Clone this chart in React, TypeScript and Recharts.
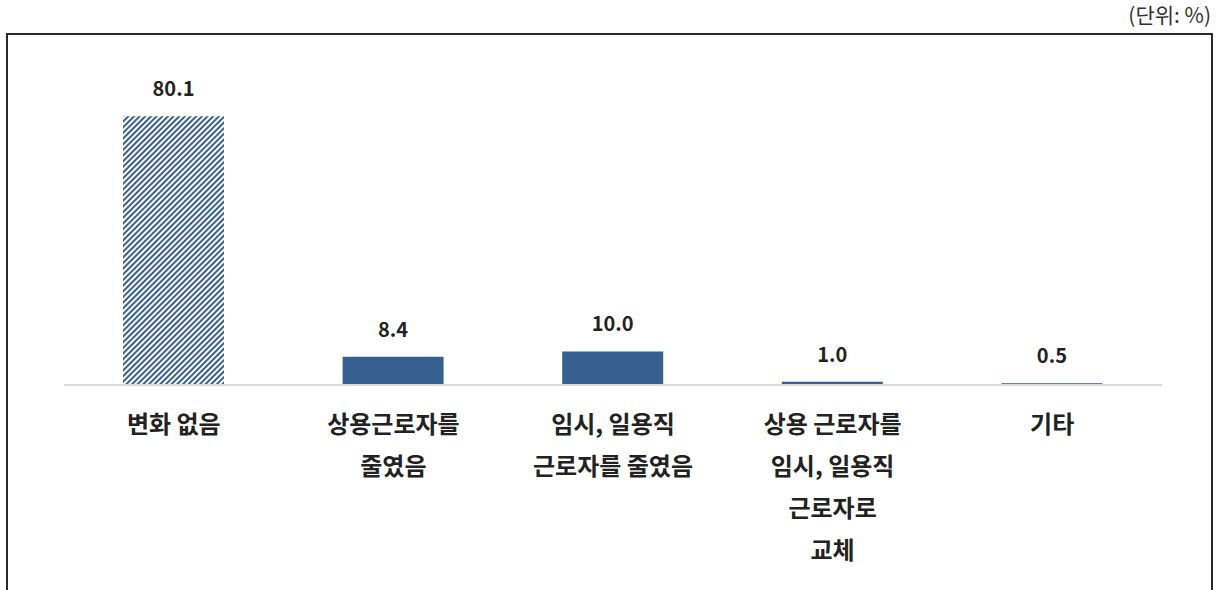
import { BarChart, Bar, XAxis, YAxis, Cell, LabelList } from 'recharts'

const categories = ['변화 없음', '상용근로자를\n줄였음', '임시, 일용직\n근로자를 줄였음', '상용 근로자를\n임시, 일용직\n근로자로\n교체', '기타']
const values = [80.1, 8.4, 10.0, 1.0, 0.5]

const BAR_COLOR = '#36608f'
const FONT = '"Noto Sans CJK KR", "Noto Sans", sans-serif'

const data = categories.map((name, i) => ({ name, value: values[i] }))

function CategoryTick(props: any) {
  const { x, y, payload } = props
  const lines: string[] = String(payload.value).split('\n')
  return (
    <text x={x} y={y + 48} textAnchor="middle" fill="#222" fontSize={24} fontWeight={700} fontFamily={FONT}>
      {lines.map((l, i) => (
        <tspan key={i} x={x} dy={i === 0 ? 0 : 42}>
          {l}
        </tspan>
      ))}
    </text>
  )
}

export default function App() {
  return (
    <div style={{ position: 'absolute', left: 0, top: 0, width: 1220, height: 590, overflow: 'hidden', background: '#fff' }}>
      <div
        style={{
          position: 'absolute',
          right: 9,
          top: 1,
          fontFamily: FONT,
          fontSize: 21,
          color: '#333',
          lineHeight: '26px',
        }}
      >
        (단위: %)
      </div>
      <div
        style={{
          position: 'absolute',
          left: 6,
          top: 33,
          width: 1203,
          height: 620,
          border: '2px solid #2a2a2a',
        }}
      />
      <div style={{ position: 'absolute', left: 0, top: 0 }}>
        <BarChart width={1220} height={590} data={data} margin={{ top: 83, right: 58, bottom: 0, left: 64 }}>
          <defs>
            <pattern id="hatch" patternUnits="userSpaceOnUse" width="4" height="4" patternTransform="rotate(45)">
              <rect width="4" height="4" fill="#ffffff" />
              <rect width="2" height="4" fill={BAR_COLOR} />
            </pattern>
          </defs>
          <YAxis hide domain={[0, 90]} />
          <XAxis
            dataKey="name"
            height={205}
            interval={0}
            tickLine={false}
            tickSize={0}
            tickMargin={0}
            axisLine={{ stroke: '#d9d9d9', strokeWidth: 2 }}
            tick={<CategoryTick />}
          />
          <Bar dataKey="value" barSize={101} isAnimationActive={false}>
            {data.map((d, i) => (
              <Cell key={d.name} fill={i === 0 ? 'url(#hatch)' : BAR_COLOR} />
            ))}
            <LabelList
              dataKey="value"
              position="top"
              offset={20}
              formatter={(v: any) => Number(v).toFixed(1)}
              fill="#222"
              fontSize={20}
              fontWeight={700}
              fontFamily={FONT}
            />
          </Bar>
        </BarChart>
      </div>
    </div>
  )
}
